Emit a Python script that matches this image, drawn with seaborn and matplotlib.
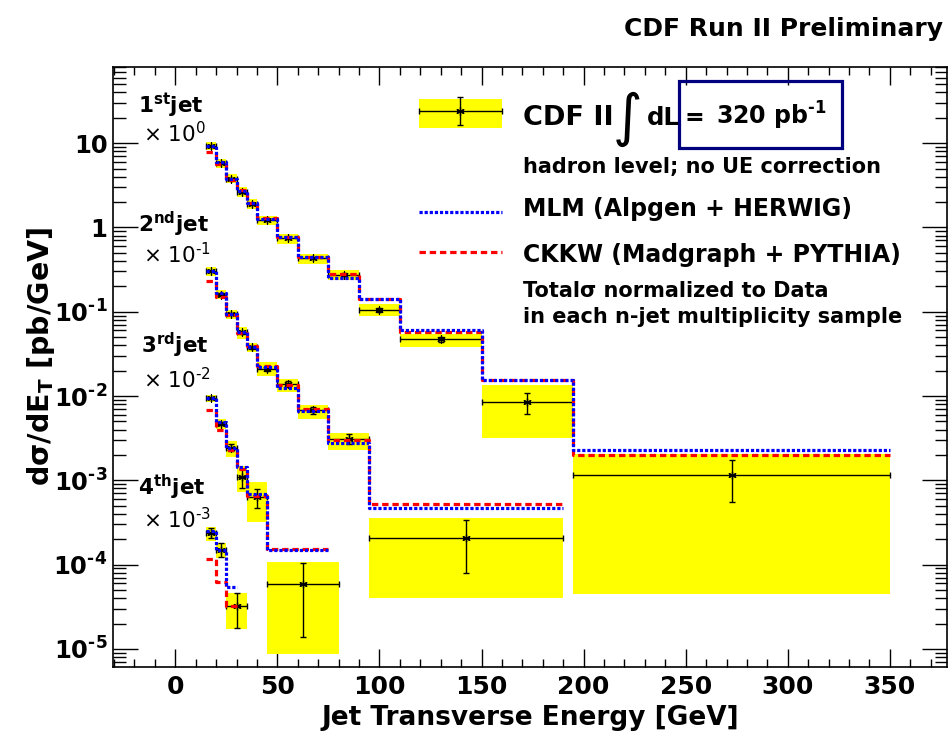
import numpy as np
import matplotlib
matplotlib.use("Agg")
import matplotlib.pyplot as plt
import seaborn as sns
from matplotlib.patches import Rectangle
from matplotlib.ticker import FixedLocator, FixedFormatter, LogLocator, MultipleLocator, NullFormatter

# ---------------------------------------------------------------- data
# bin edges in jet E_T [GeV] for each jet multiplicity (data histograms)
edges_1 = [15, 20, 25, 30, 35, 40, 50, 60, 75, 90, 110, 150, 195, 350]
edges_2 = [15, 20, 25, 30, 35, 40, 50, 60, 75, 95, 190]
edges_3 = [15, 20, 25, 30, 35, 45, 80]
edges_4 = [15, 20, 25, 35]
# binning of the theory histograms where it differs from the data
theory_edges_3 = [15, 20, 25, 30, 35, 45, 75]
theory_edges_4 = [15, 20, 25, 30]

# measured cross sections (already scaled by 10^0 ... 10^-3) [pb/GeV]
data_1 = [9.3, 5.8, 3.8, 2.65, 1.9, 1.22, 0.74, 0.43, 0.275, 0.106, 0.047, 0.0085, 0.00116]
stat_1 = [0.2, 0.12, 0.08, 0.06, 0.04, 0.03, 0.02, 0.012, 0.01, 0.006, 0.0035, 0.0023, 0.0006]
sys_lo_1 = [8.3, 5.1, 3.35, 2.3, 1.65, 1.08, 0.64, 0.37, 0.235, 0.088, 0.038, 0.0032, 4.5e-5]
sys_hi_1 = [10.4, 6.5, 4.25, 3.0, 2.15, 1.38, 0.84, 0.48, 0.31, 0.123, 0.055, 0.0134, 0.00206]
mlm_1 = [9.2, 5.9, 3.8, 2.7, 1.95, 1.27, 0.76, 0.44, 0.25, 0.143, 0.060, 0.0157, 0.00231]
ckkw_1 = [7.8, 5.6, 3.7, 2.75, 1.95, 1.3, 0.78, 0.45, 0.28, 0.143, 0.057, 0.0155, 0.00201]

data_2 = [0.30, 0.16, 0.094, 0.057, 0.038, 0.021, 0.014, 0.0068, 0.0031, 2.08e-4]
stat_2 = [0.008, 0.005, 0.003, 0.002, 0.0015, 0.001, 0.0011, 0.0007, 0.0004, 1.28e-4]
sys_lo_2 = [0.265, 0.14, 0.081, 0.048, 0.0335, 0.0174, 0.0112, 0.0053, 0.0023, 4.05e-5]
sys_hi_2 = [0.335, 0.18, 0.106, 0.066, 0.043, 0.025, 0.0158, 0.0079, 0.0036, 3.6e-4]
mlm_2 = [0.305, 0.165, 0.095, 0.057, 0.038, 0.022, 0.0125, 0.0067, 0.0028, 4.7e-4]
ckkw_2 = [0.23, 0.15, 0.092, 0.056, 0.039, 0.023, 0.0135, 0.0070, 0.0030, 5.3e-4]

data_3 = [0.0095, 0.0047, 0.00245, 0.00109, 6.3e-4, 5.9e-5]
stat_3 = [3e-4, 2e-4, 2.5e-4, 2.9e-4, 1.55e-4, 4.5e-5]
sys_lo_3 = [0.0085, 0.0041, 0.0019, 7.3e-4, 3.2e-4, 8.6e-6]
sys_hi_3 = [0.0103, 0.0053, 0.0029, 0.00148, 9.5e-4, 1.07e-4]
mlm_3 = [0.0094, 0.0049, 0.00245, 0.00144, 6.8e-4, 1.5e-4]
ckkw_3 = [0.0069, 0.0039, 0.0023, 0.00137, 6.5e-4, 1.55e-4]

data_4 = [2.4e-4, 1.5e-4, 3.2e-5]
stat_4 = [3.5e-5, 2.8e-5, 1.45e-5]
sys_lo_4 = [1.9e-4, 1.2e-4, 1.7e-5]
sys_hi_4 = [2.8e-4, 1.8e-4, 4.6e-5]
mlm_4 = [2.48e-4, 1.5e-4, 5.4e-5]
ckkw_4 = [1.17e-4, 6.2e-5, 3.2e-5]

# axis decoration (U+2010 hyphen keeps the exponents narrow)
y_ticks = [1e-5, 1e-4, 1e-3, 1e-2, 1e-1, 1, 10]
y_tick_labels = [r"$\mathbf{10^{‐5}}$", r"$\mathbf{10^{‐4}}$", r"$\mathbf{10^{‐3}}$",
                 r"$\mathbf{10^{‐2}}$", r"$\mathbf{10^{‐1}}$", "1", "10"]
jet_names = [r"1$^{\mathbf{st}}$jet", r"2$^{\mathbf{nd}}$jet",
             r"3$^{\mathbf{rd}}$jet", r"4$^{\mathbf{th}}$jet"]
jet_scales = [r"× 10$^{0}$", r"× 10$^{‐1}$", r"× 10$^{‐2}$", r"× 10$^{‐3}$"]

# ---------------------------------------------------------------- style
sns.set_theme(style="ticks")
plt.rcParams["font.family"] = ["DejaVu Sans"]
plt.rcParams["mathtext.fontset"] = "dejavusans"
for key in ["axes.edgecolor", "text.color", "axes.labelcolor", "xtick.color", "ytick.color"]:
    plt.rcParams[key] = "black"

YELLOW = "#ffff00"
BLUE = "#0000ff"
RED = "#ff0000"
NAVY = "#00007f"

W, H = 949, 735
fig = plt.figure(figsize=(W / 100, H / 100), dpi=100)
fig.patch.set_facecolor("white")
ax = fig.add_axes([113 / W, 1 - 667 / H, (947 - 113) / W, (667 - 67) / H])
ax.set_yscale("log")
ax.set_xlim(-30.5, 378)
ax.set_ylim(6.1e-6, 80)

jets = [
    (edges_1, edges_1, data_1, stat_1, sys_lo_1, sys_hi_1, mlm_1, ckkw_1),
    (edges_2, edges_2, data_2, stat_2, sys_lo_2, sys_hi_2, mlm_2, ckkw_2),
    (edges_3, theory_edges_3, data_3, stat_3, sys_lo_3, sys_hi_3, mlm_3, ckkw_3),
    (edges_4, theory_edges_4, data_4, stat_4, sys_lo_4, sys_hi_4, mlm_4, ckkw_4),
]

# systematic bands (yellow boxes)
for edges, tedges, data, stat, lo, hi, mlm, ckkw in jets:
    e = np.asarray(edges, float)
    lo = np.asarray(lo)
    hi = np.asarray(hi)
    ax.bar(e[:-1], hi - lo, width=np.diff(e), bottom=lo, align="edge",
           color=YELLOW, linewidth=0, zorder=1)

# measured points with statistical errors
for edges, tedges, data, stat, lo, hi, mlm, ckkw in jets:
    e = np.asarray(edges, float)
    xc = 0.5 * (e[:-1] + e[1:])
    xw = 0.5 * np.diff(e)
    ax.errorbar(xc, data, xerr=xw, yerr=stat, fmt="none", ecolor="black",
                elinewidth=1.0, capsize=2.2, capthick=1.0, zorder=3)
    sns.scatterplot(x=xc, y=data, marker=(6, 2, 0), s=28, color="black",
                    linewidth=0.9, ax=ax, zorder=4, legend=False)

# theory predictions as step histograms
for edges, tedges, data, stat, lo, hi, mlm, ckkw in jets:
    for vals, col, ls in [(ckkw, RED, (0, (2.0, 1.2))), (mlm, BLUE, (0, (1.0, 0.6)))]:
        yy = list(vals) + [vals[-1]]
        sns.lineplot(x=tedges, y=yy, drawstyle="steps-post", color=col,
                     linestyle=ls, linewidth=2.3, sort=False, estimator=None,
                     errorbar=None, ax=ax, zorder=5, legend=False)

# axes, ticks
ax.yaxis.set_major_locator(FixedLocator(y_ticks))
ax.yaxis.set_major_formatter(FixedFormatter(y_tick_labels))
ax.yaxis.set_minor_locator(LogLocator(base=10, subs=np.arange(2, 10), numticks=30))
ax.yaxis.set_minor_formatter(NullFormatter())
ax.xaxis.set_major_locator(MultipleLocator(50))
ax.xaxis.set_minor_locator(MultipleLocator(10))
ax.tick_params(which="both", direction="in", top=True, right=True, colors="black",
               width=1.0)
ax.tick_params(axis="x", which="major", length=13, pad=6, labelsize=18)
ax.tick_params(axis="x", which="minor", length=6)
ax.tick_params(axis="y", which="major", length=18, pad=4, labelsize=17.5)
ax.tick_params(axis="y", which="minor", length=9)
for lab in ax.get_xticklabels() + ax.get_yticklabels():
    lab.set_fontweight("bold")
for sp in ax.spines.values():
    sp.set_linewidth(1.2)
    sp.set_color("black")
ax.set_xlabel("")
ax.set_ylabel("")

# ---------------------------------------------------------------- overlay (pixel coordinates)
ov = fig.add_axes([0, 0, 1, 1], facecolor="none")
ov.set_xlim(0, W)
ov.set_ylim(H, 0)
ov.axis("off")

ov.text(943, 36, "CDF Run II Preliminary", ha="right", va="baseline",
        fontsize=18, fontweight="bold")
ov.text(530, 725, "Jet Transverse Energy [GeV]", ha="center", va="baseline",
        fontsize=19, fontweight="bold")
ov.text(41, 356, r"d$\mathbf{\sigma}$/dE$_{\mathbf{T}}$ [pb/GeV]", ha="center", va="center",
        rotation=90, fontsize=20.5, fontweight="bold")

# jet multiplicity labels
name_pos = [(138, 113), (138, 232), (141, 353), (138, 495)]
scale_pos = [(143, 142), (143, 263), (143, 388), (143, 528)]
for name, (x, y) in zip(jet_names, name_pos):
    ov.text(x, y, name, ha="left", va="baseline", fontsize=15.5, fontweight="bold")
for sc, (x, y) in zip(jet_scales, scale_pos):
    ov.text(x, y, sc, ha="left", va="baseline", fontsize=15.5)

# legend
ov.add_patch(Rectangle((419, 99), 83, 29, facecolor=YELLOW, edgecolor="none"))
ov.errorbar([460.5], [111], xerr=[41.5], yerr=[14], fmt="none", ecolor="black",
            elinewidth=1.0, capsize=2.2, capthick=1.0)
ov.plot([460.5], [111], marker=(6, 2, 0), markersize=6, color="black", mew=0.9)
ov.text(523, 125, "CDF II", ha="left", va="baseline", fontsize=19.5, fontweight="bold")
ov.text(613, 135, "∫", ha="left", va="baseline", fontsize=41)
ov.text(647, 125, "dL", ha="left", va="baseline", fontsize=17.5, fontweight="bold")
ov.add_patch(Rectangle((679, 81), 163, 67, facecolor="none", edgecolor=NAVY, linewidth=2.3))
ov.text(685, 125, "=", ha="left", va="baseline", fontsize=17, fontweight="bold")
ov.text(716, 125, r"320 pb$^{\mathbf{‐1}}$", ha="left", va="baseline",
        fontsize=17, fontweight="bold")
ov.text(523, 173, "hadron level; no UE correction", ha="left", va="baseline",
        fontsize=15, fontweight="bold")
ov.plot([419, 502], [212, 212], color=BLUE, linewidth=2.3, linestyle=(0, (1.0, 0.6)))
ov.text(523, 216, "MLM (Alpgen + HERWIG)", ha="left", va="baseline",
        fontsize=17, fontweight="bold")
ov.plot([419, 502], [252, 252], color=RED, linewidth=2.3, linestyle=(0, (2.0, 1.2)))
ov.text(523, 262, "CKKW (Madgraph + PYTHIA)", ha="left", va="baseline",
        fontsize=17, fontweight="bold")
ov.text(523, 297, "Totalσ normalized to Data", ha="left", va="baseline",
        fontsize=15, fontweight="bold")
ov.text(523, 323, "in each n-jet multiplicity sample", ha="left", va="baseline",
        fontsize=15, fontweight="bold")

fig.savefig("out.png", dpi=100, facecolor="white")
